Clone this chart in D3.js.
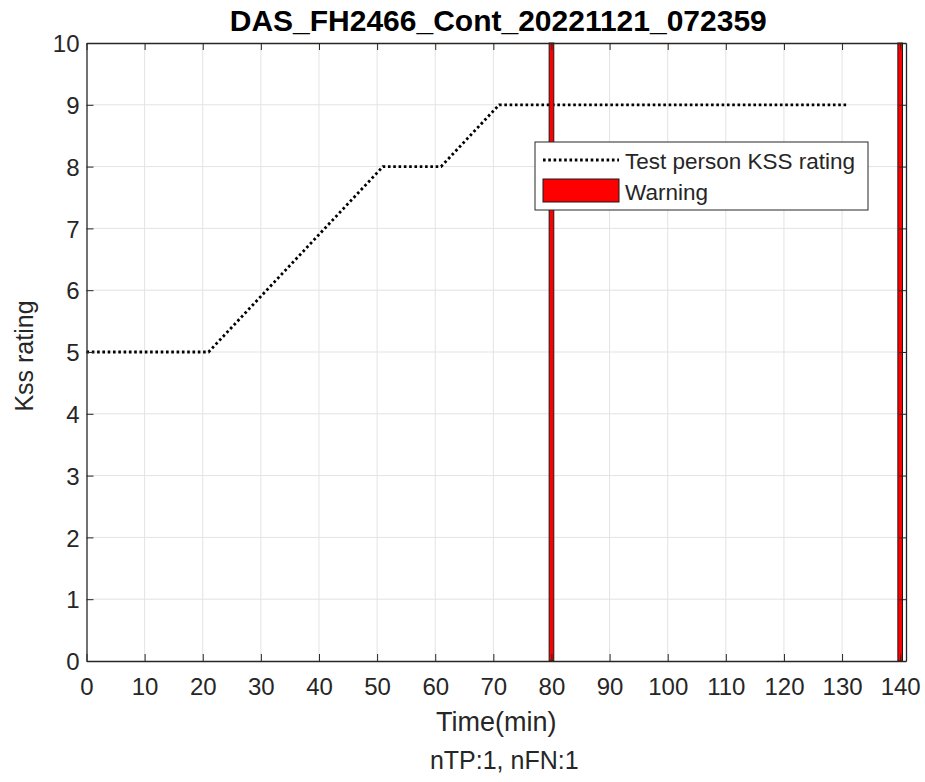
<!DOCTYPE html>
<html>
<head>
<meta charset="utf-8">
<script src="https://cdn.jsdelivr.net/npm/d3@7"></script>
<style>
  body { margin: 0; background: #fff; }
  text { font-family: "Liberation Sans", Arial, Helvetica, sans-serif; fill: #262626; }
</style>
</head>
<body>
<svg id="chart" width="925" height="782"></svg>
<script>
// KSS rating vs time, with warning markers
const title = "DAS_FH2466_Cont_20221121_072359";
const timeMin = [0, 21, 51, 61, 71, 131];
const kssRating = [5, 5, 8, 8, 9, 9];
const warningTimes = [80, 140];
const xTicks = d3.range(0, 141, 10);
const yTicks = d3.range(0, 11, 1);
const legendLabels = ["Test person KSS rating", "Warning"];

const svg = d3.select("#chart");
const plot = { left: 86.5, right: 906, top: 43, bottom: 661 };

const x = d3.scaleLinear().domain([0, 141]).range([plot.left, plot.right]);
const y = d3.scaleLinear().domain([0, 10]).range([plot.bottom, plot.top]);

const axisColor = "#262626";

// grid
const grid = svg.append("g").attr("stroke", "#e3e3e3").attr("stroke-width", 1);
grid.selectAll("line.gx")
  .data(xTicks.filter(d => d > 0))
  .join("line")
  .attr("x1", d => x(d)).attr("x2", d => x(d))
  .attr("y1", plot.top).attr("y2", plot.bottom);
grid.selectAll("line.gy")
  .data(yTicks.filter(d => d > 0 && d < 10))
  .join("line")
  .attr("x1", plot.left).attr("x2", plot.right)
  .attr("y1", d => y(d)).attr("y2", d => y(d));

// KSS line
const line = d3.line().x((d, i) => x(timeMin[i])).y(d => y(d));
svg.append("path")
  .datum(kssRating)
  .attr("d", line)
  .attr("fill", "none")
  .attr("stroke", "#000")
  .attr("stroke-width", 2.8)
  .attr("stroke-dasharray", "2.6 2.7");

// warning bars
svg.append("g")
  .selectAll("rect")
  .data(warningTimes)
  .join("rect")
  .attr("x", d => x(d - 0.4))
  .attr("width", d => x(d + 0.4) - x(d - 0.4))
  .attr("y", y(10))
  .attr("height", y(0) - y(10))
  .attr("fill", "#ff0000")
  .attr("stroke", "#1a1a1a")
  .attr("stroke-width", 1);

// axes
const xAxis = d3.axisBottom(x).tickValues(xTicks).tickSize(-7).tickPadding(17).tickSizeOuter(0);
const xAxisTop = d3.axisTop(x).tickValues(xTicks).tickSize(-7).tickFormat("").tickSizeOuter(0);
const yAxis = d3.axisLeft(y).tickValues(yTicks).tickSize(-7).tickPadding(7).tickSizeOuter(0);
const yAxisRight = d3.axisRight(y).tickValues(yTicks).tickSize(-7).tickFormat("").tickSizeOuter(0);

function styleAxis(g) {
  g.select(".domain").attr("stroke", axisColor).attr("stroke-width", 1.3);
  g.selectAll(".tick line").attr("stroke", axisColor).attr("stroke-width", 1);
  g.selectAll(".tick text").attr("fill", axisColor).style("font-size", "24px")
    .style("font-family", "'Liberation Sans', Arial, sans-serif");
}

svg.append("g").attr("transform", `translate(0,${plot.bottom})`).call(xAxis).call(styleAxis);
svg.append("g").attr("transform", `translate(0,${plot.top})`).call(xAxisTop).call(styleAxis);
svg.append("g").attr("transform", `translate(${plot.left},0)`).call(yAxis).call(styleAxis)
  .selectAll(".tick text").attr("dy", "0.36em");
svg.append("g").attr("transform", `translate(${plot.right},0)`).call(yAxisRight).call(styleAxis);

// titles
svg.append("text")
  .attr("x", (plot.left + plot.right) / 2 + 2)
  .attr("y", 31)
  .attr("text-anchor", "middle")
  .style("font-size", "30px")
  .style("font-weight", "bold")
  .style("fill", "#000")
  .text(title);

svg.append("text")
  .attr("x", (plot.left + plot.right) / 2)
  .attr("y", 731)
  .attr("text-anchor", "middle")
  .style("font-size", "27px")
  .text("Time(min)");

svg.append("text")
  .attr("x", (plot.left + plot.right) / 2 + 8)
  .attr("y", 769)
  .attr("text-anchor", "middle")
  .style("font-size", "25px")
  .text("nTP:1, nFN:1");

svg.append("text")
  .attr("transform", `translate(33,${(plot.top + plot.bottom) / 2 + 4}) rotate(-90)`)
  .attr("text-anchor", "middle")
  .style("font-size", "25px")
  .text("Kss rating");

// legend
const legend = svg.append("g").attr("transform", "translate(535,142)");
legend.append("rect")
  .attr("width", 333).attr("height", 68)
  .attr("fill", "#fff")
  .attr("stroke", "#262626").attr("stroke-width", 1);
legend.append("line")
  .attr("x1", 8).attr("x2", 84).attr("y1", 18).attr("y2", 18)
  .attr("stroke", "#000").attr("stroke-width", 2.8).attr("stroke-dasharray", "2.6 2.7");
legend.append("rect")
  .attr("x", 8).attr("y", 37).attr("width", 76).attr("height", 23)
  .attr("fill", "#ff0000").attr("stroke", "#1a1a1a").attr("stroke-width", 1);
legend.selectAll("text.lg")
  .data(legendLabels)
  .join("text")
  .attr("x", 90)
  .attr("y", (d, i) => 27 + i * 31)
  .style("font-size", "22.5px")
  .text(d => d);
</script>
</body>
</html>
